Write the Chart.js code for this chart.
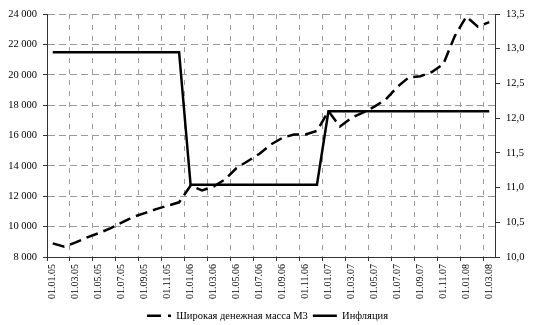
<!DOCTYPE html>
<html>
<head>
<meta charset="utf-8">
<script src="https://cdn.jsdelivr.net/npm/chart.js@4/dist/chart.umd.min.js"></script>
<style>
html,body{margin:0;padding:0;background:#fff;}
#wrap{width:535px;height:325px;position:relative;}
</style>
</head>
<body>
<div id="wrap"><canvas id="c"></canvas></div>
<script>
const months = [
  "01.01.05","01.02.05","01.03.05","01.04.05","01.05.05","01.06.05","01.07.05","01.08.05","01.09.05","01.10.05","01.11.05","01.12.05",
  "01.01.06","01.02.06","01.03.06","01.04.06","01.05.06","01.06.06","01.07.06","01.08.06","01.09.06","01.10.06","01.11.06","01.12.06",
  "01.01.07","01.02.07","01.03.07","01.04.07","01.05.07","01.06.07","01.07.07","01.08.07","01.09.07","01.10.07","01.11.07","01.12.07",
  "01.01.08","01.02.08","01.03.08"
];
const m3Values = [
  8900, 8680, 8960, 9290, 9570, 9880, 10270, 10640, 10890, 11150, 11380, 11600,
  12700, 12390, 12640, 13110, 13860, 14320, 14800, 15410, 15850, 16070, 16070, 16300,
  17600, 16600, 17160, 17510, 17900, 18380, 19200, 19830, 19900, 20180, 20700, 22550,
  23830, 23170, 23460
];
const inflationValues = [
  12.95, 12.95, 12.95, 12.95, 12.95, 12.95, 12.95, 12.95, 12.95, 12.95, 12.95, 12.95,
  11.04, 11.04, 11.04, 11.04, 11.04, 11.04, 11.04, 11.04, 11.04, 11.04, 11.04, 11.04,
  12.1, 12.1, 12.1, 12.1, 12.1, 12.1, 12.1, 12.1, 12.1, 12.1, 12.1, 12.1, 12.1, 12.1, 12.1
];
const seriesNames = ["Широкая денежная масса М3", "Инфляция"];
const leftTicks = {min: 8000, max: 24000, step: 2000};
const rightTicks = {min: 10, max: 13.5, step: 0.5};

const FONT = "'Liberation Serif', 'Times New Roman', serif";
const GRID = "#9a9a9a";
const AXIS = "#333333";

new Chart(document.getElementById('c'), {
  type: 'line',
  data: {
    labels: months,
    datasets: [
      {
        label: seriesNames[0],
        data: m3Values,
        yAxisID: 'y',
        borderColor: '#000',
        backgroundColor: '#000',
        borderWidth: 2.5,
        borderDash: [12, 6],
        pointRadius: 0,
        tension: 0,
        fill: false
      },
      {
        label: seriesNames[1],
        data: inflationValues,
        yAxisID: 'y2',
        borderColor: '#000',
        backgroundColor: '#000',
        borderWidth: 2.5,
        pointRadius: 0,
        tension: 0,
        fill: false
      }
    ]
  },
  options: {
    responsive: true,
    maintainAspectRatio: false,
    animation: false,
    devicePixelRatio: 1,
    layout: {padding: {top: 14, left: 0, right: 0, bottom: -6}},
    plugins: {
      tooltip: {enabled: false},
      legend: {
        position: 'bottom',
        labels: {
          color: '#000',
          font: {family: FONT, size: 10.5},
          boxWidth: 24,
          boxHeight: 0,
          padding: 5,
          generateLabels(chart) {
            return chart.data.datasets.map((ds, i) => ({
              text: ds.label,
              fillStyle: 'rgba(0,0,0,0)',
              strokeStyle: '#000',
              lineWidth: 2.5,
              lineDash: i === 0 ? [14, 7, 3, 24] : [],
              hidden: false,
              datasetIndex: i,
              fontColor: '#000'
            }));
          }
        }
      }
    },
    scales: {
      x: {
        type: 'category',
        offset: true,
        grid: {
          offset: true,
          color: (c) => (c.index !== undefined && c.index % 2 === 0) ? GRID : 'rgba(0,0,0,0)',
          lineWidth: 1,
          tickColor: (c) => (c.index !== undefined && c.index % 2 === 0) ? AXIS : 'rgba(0,0,0,0)',
          tickLength: 4,
          drawTicks: true
        },
        border: {display: true, color: AXIS, width: 1, dash: [5, 6]},
        ticks: {
          autoSkip: false,
          minRotation: 90,
          maxRotation: 90,
          padding: 3,
          color: '#000',
          font: {family: FONT, size: 10},
          callback(v, i) { return i % 2 === 0 ? months[i] : ''; }
        },
        afterFit(s) { s.height = 48.5; }
      },
      y: {
        position: 'left',
        min: leftTicks.min,
        max: leftTicks.max,
        grid: {
          color: GRID,
          lineWidth: 1,
          tickColor: AXIS,
          tickLength: 4
        },
        border: {display: true, color: AXIS, width: 1, dash: [7, 4]},
        ticks: {
          stepSize: leftTicks.step,
          padding: 6,
          color: '#000',
          font: {family: FONT, size: 10.5},
          callback(v) { return String(v).replace(/\B(?=(\d{3})+(?!\d))/g, ' '); }
        },
        afterFit(s) { s.width = 47; }
      },
      y2: {
        position: 'right',
        min: rightTicks.min,
        max: rightTicks.max,
        grid: {
          drawOnChartArea: false,
          tickColor: AXIS,
          tickLength: 5
        },
        border: {display: true, color: AXIS, width: 1},
        ticks: {
          stepSize: rightTicks.step,
          padding: 6,
          color: '#000',
          font: {family: FONT, size: 10.5},
          callback(v) { return Number(v).toFixed(1).replace('.', ','); }
        },
        afterFit(s) { s.width = 40; }
      }
    }
  }
});
</script>
</body>
</html>
